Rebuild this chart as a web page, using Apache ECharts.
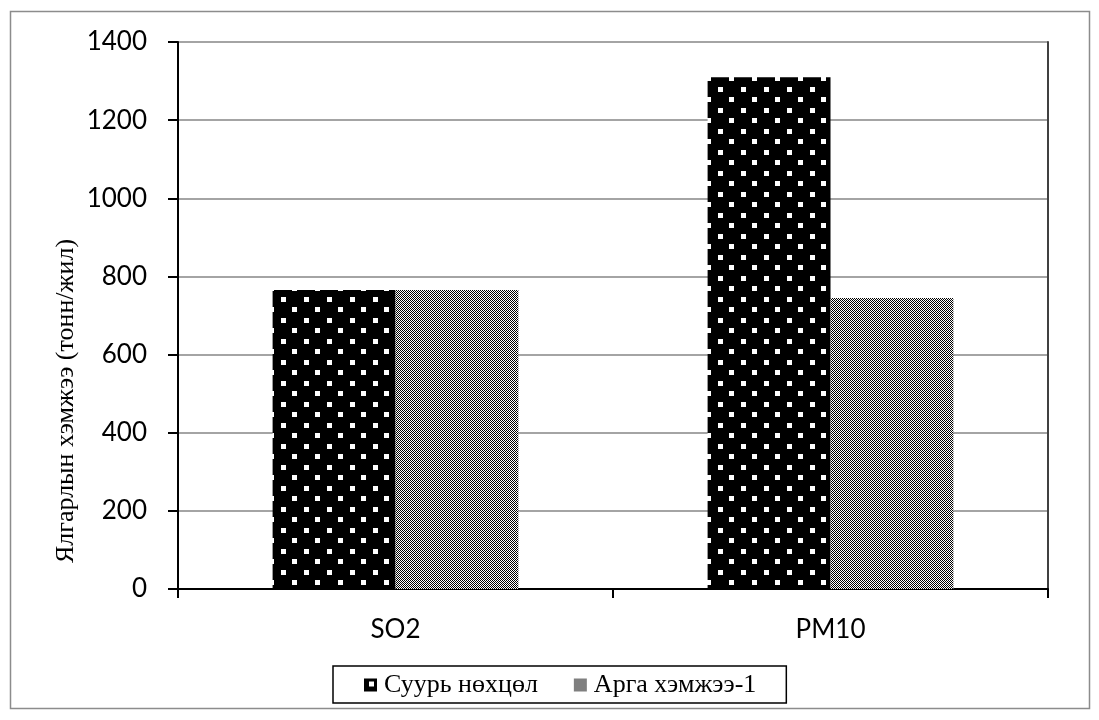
<!DOCTYPE html>
<html>
<head>
<meta charset="utf-8">
<script src="https://cdn.jsdelivr.net/npm/echarts@6/dist/echarts.min.js"></script>
<style>html,body{margin:0;padding:0;background:#fff;}#c{width:1099px;height:720px;}</style>
</head>
<body>
<div id="c"></div>
<script>
var categories = ['SO2', 'PM10'];
var seriesNames = ['Суурь нөхцөл', 'Арга хэмжээ-1'];
var baseValues = [765, 1310];
var measureValues = [765, 745];
var yTicks = { min: 0, max: 1400, interval: 200 };
var yTitle = 'Ялгарлын хэмжээ (тонн/жил)';

function dotPattern() {
  var c = document.createElement('canvas');
  c.width = 23; c.height = 21;
  var g = c.getContext('2d');
  g.fillStyle = '#000'; g.fillRect(0, 0, 23, 21);
  g.fillStyle = '#fff';
  g.fillRect(5, 3, 5, 5);
  g.fillRect(16, 13, 5, 5);
  return c;
}
function checkPattern() {
  var c = document.createElement('canvas');
  c.width = 2; c.height = 2;
  var g = c.getContext('2d');
  g.fillStyle = '#fff'; g.fillRect(0, 0, 2, 2);
  g.fillStyle = '#000';
  g.fillRect(0, 0, 1, 1);
  g.fillRect(1, 1, 1, 1);
  return c;
}

var chart = echarts.init(document.getElementById('c'), null, { renderer: 'canvas' });
var sansFont = 'Lato, "Noto Sans", sans-serif';
var serifFont = '"Liberation Serif", "DejaVu Serif", serif';

chart.setOption({
  animation: false,
  backgroundColor: '#fff',
  graphic: [{
    type: 'rect', shape: { x: 10.5, y: 11.5, width: 1079, height: 697 },
    style: { fill: 'none', stroke: '#8c8c8c', lineWidth: 1.5 }, z: -1
  }, {
    type: 'text', x: 66, y: 401, rotation: Math.PI / 2,
    style: { text: yTitle, fontFamily: serifFont, fontSize: 26, fill: '#000', align: 'center', verticalAlign: 'middle' }
  }],
  grid: { left: 178, right: 51, top: 42, bottom: 131, containLabel: false },
  legend: {
    bottom: 17,
    left: 333,
    data: seriesNames,
    itemWidth: 13, itemHeight: 13, itemGap: 36,
    borderColor: '#000', borderWidth: 1.5,
    padding: [6, 30, 5, 31],
    textStyle: { fontFamily: serifFont, fontSize: 26, color: '#000', padding: [0, 0, 0, 2] },
    icon: 'rect'
  },
  xAxis: {
    type: 'category',
    data: categories,
    axisLine: { lineStyle: { color: '#000', width: 2 } },
    axisTick: { show: true, length: 9, lineStyle: { color: '#000', width: 2 } },
    axisLabel: { fontFamily: sansFont, fontSize: 26, color: '#000', margin: 28 }
  },
  yAxis: [{
    type: 'value',
    min: yTicks.min, max: yTicks.max, interval: yTicks.interval,
    axisLine: { show: true, lineStyle: { color: '#000', width: 2 } },
    axisTick: { show: true, length: 10, lineStyle: { color: '#000', width: 2 } },
    axisLabel: { fontFamily: sansFont, fontSize: 26, color: '#000', margin: 31, formatter: function (v) { return String(v); } },
    splitLine: { show: true, lineStyle: { color: '#868686', width: 1.5 } }
  }, {
    type: 'value', position: 'right',
    min: yTicks.min, max: yTicks.max, interval: yTicks.interval,
    axisLine: { show: true, lineStyle: { color: '#404040', width: 2 } },
    axisTick: { show: false }, axisLabel: { show: false }, splitLine: { show: false }
  }],
  series: [{
    name: seriesNames[0], type: 'bar', data: baseValues,
    barGap: '0%', barCategoryGap: '43.5%',
    itemStyle: { color: { image: dotPattern(), repeat: 'repeat' } }
  }, {
    name: seriesNames[1], type: 'bar', data: measureValues,
    itemStyle: { color: { image: checkPattern(), repeat: 'repeat' } }
  }]
});
</script>
</body>
</html>
